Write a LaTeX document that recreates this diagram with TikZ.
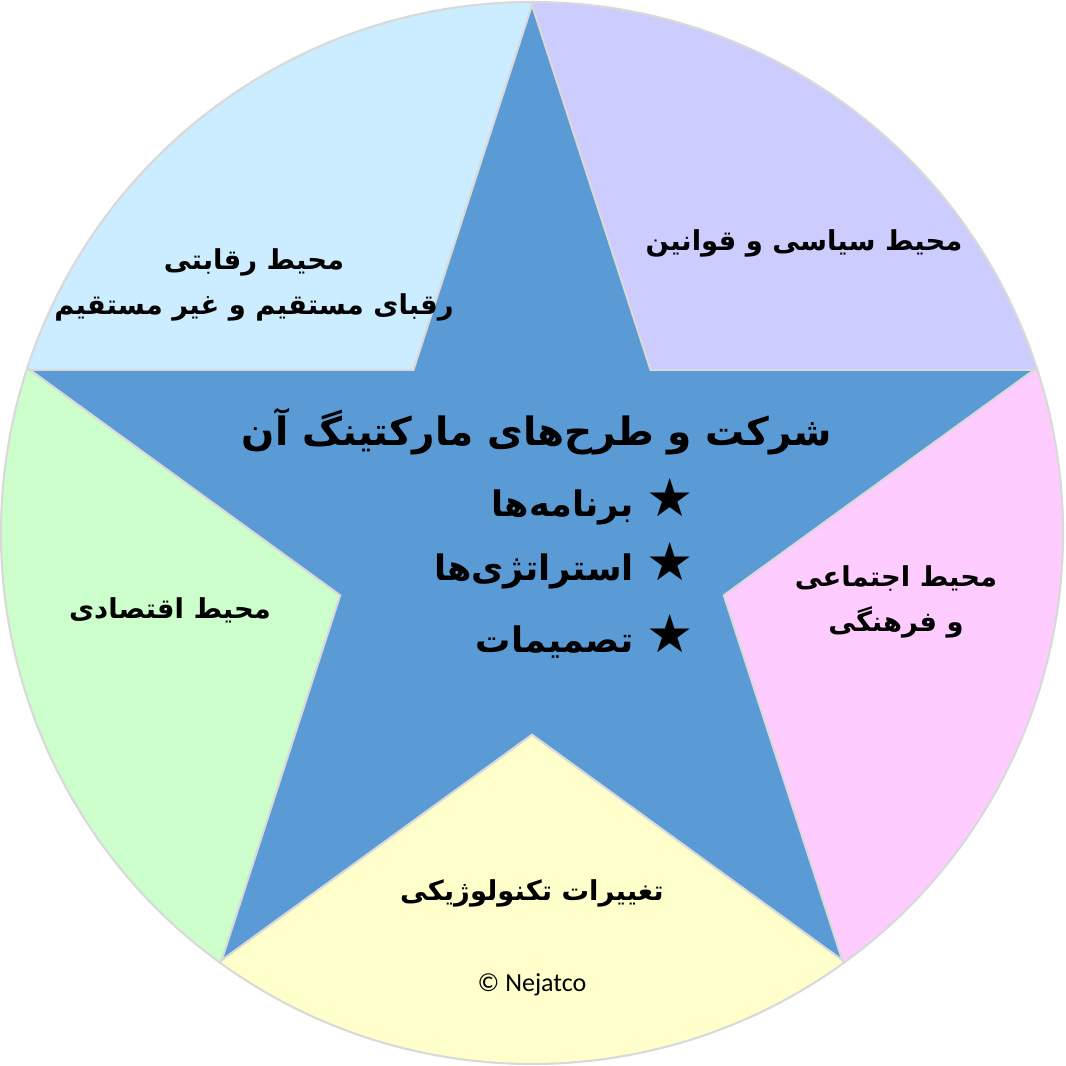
\documentclass[tikz,border=0pt]{standalone}
\usepackage{fontspec}
\usepackage{tikz}
\TeXXeTstate=1
\newfontfamily\arabicfont[Script=Arabic]{DejaVu Sans}
\newfontfamily\carlito{Carlito}
\definecolor{starblue}{HTML}{5B9BD5}
\definecolor{skyfill}{HTML}{CCECFF}
\definecolor{lilacfill}{HTML}{CCCCFF}
\definecolor{pinkfill}{HTML}{FFCCFF}
\definecolor{creamfill}{HTML}{FFFFCC}
\definecolor{mintfill}{HTML}{CCFFCC}
\definecolor{rimgray}{HTML}{D9D9D9}
\newcommand{\itemstar}{{\fontsize{15}{15}\selectfont ★}}

\begin{document}
\begin{tikzpicture}[
        lbl/.style={font=\arabicfont\bfseries\fontsize{7.8}{13}\selectfont, align=center, text=black},
        item/.style={font=\arabicfont\bfseries\fontsize{10}{13}\selectfont, anchor=east, inner sep=0pt, text=black},
        slice/.style={draw=rimgray, line width=0.6pt}]
        \def\rcirc{5.31}
        \def\rout{5.28}
        \def\rin{2.017}
        \useasboundingbox (-5.32,-5.33) rectangle (5.33,5.33);
        % pie slices between the star tips
        \filldraw[slice, fill=skyfill] (0,0) -- (90:\rcirc) arc[start angle=90, end angle=162, radius=\rcirc] -- cycle;
        \filldraw[slice, fill=mintfill] (0,0) -- (162:\rcirc) arc[start angle=162, end angle=234, radius=\rcirc] -- cycle;
        \filldraw[slice, fill=creamfill] (0,0) -- (234:\rcirc) arc[start angle=234, end angle=306, radius=\rcirc] -- cycle;
        \filldraw[slice, fill=pinkfill] (0,0) -- (306:\rcirc) arc[start angle=306, end angle=378, radius=\rcirc] -- cycle;
        \filldraw[slice, fill=lilacfill] (0,0) -- (18:\rcirc) arc[start angle=18, end angle=90, radius=\rcirc] -- cycle;
        % the star
        \filldraw[fill=starblue, draw=rimgray, line width=0.6pt] (90:\rout) -- (126:\rin) -- (162:\rout) -- (198:\rin) -- (234:\rout)
            -- (270:\rin) -- (306:\rout) -- (342:\rin) -- (18:\rout) -- (54:\rin) -- cycle;
        \node[font=\arabicfont\bfseries\fontsize{11.1}{14}\selectfont] (firm) at (0.05,1.01) {\beginR شرکت و طرح^^^^200cهای مارکتینگ آن\endR};
        \node[item] (plans) at (1.62,0.31) {\beginR\itemstar\ برنامه^^^^200cها\endR};
        \node[item] (strategies) at (1.62,-0.33) {\beginR\itemstar\ استراتژی^^^^200cها\endR};
        \node[item] (decisions) at (1.62,-1.03) {\beginR\itemstar\ تصمیمات\endR};
        \node[lbl] (compete) at (-2.78,2.48) {\beginR محیط رقابتی\endR\\ \beginR رقبای مستقیم و غیر مستقیم\endR};
        \node[lbl] (politics) at (2.72,2.90) {\beginR محیط سیاسی و قوانین\endR};
        \node[lbl] (social) at (3.64,-0.69) {\beginR محیط اجتماعی\endR\\ \beginR و فرهنگی\endR};
        \node[lbl] (economy) at (-3.62,-0.77) {\beginR محیط اقتصادی\endR};
        \node[lbl] (tech) at (0,-3.60) {\beginR تغییرات تکنولوژیکی\endR};
        \node[font=\carlito\fontsize{7.4}{9}\selectfont] (copy) at (0,-4.52) {© Nejatco};
\end{tikzpicture}
\end{document}
